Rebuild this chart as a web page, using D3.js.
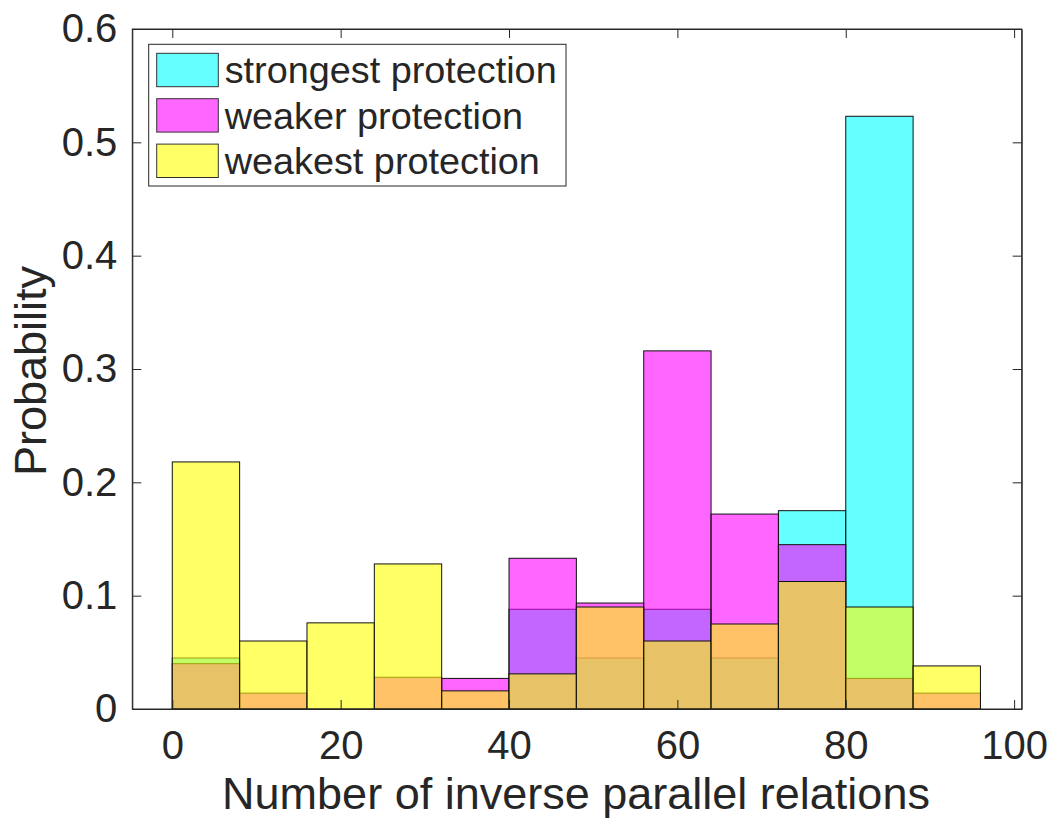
<!DOCTYPE html>
<html>
<head>
<meta charset="utf-8">
<script src="https://cdn.jsdelivr.net/npm/d3@7"></script>
<style>
    body { margin: 0; background: #fff; }
    text { font-family: "Liberation Sans", Arial, Helvetica, sans-serif; fill: #262626; }
</style>
</head>
<body>
<div id="chart"></div>
<script>
// bin edges (width 8) and probabilities
const binEdges = [0, 8, 16, 24, 32, 40, 48, 56, 64, 72, 80, 88, 96];
const strongest = [0.045, 0, 0, 0, 0, 0.088, 0.045, 0.088, 0.045, 0.175, 0.523, 0];
const weaker = [0.040, 0.014, 0, 0.028, 0.027, 0.133, 0.0935, 0.316, 0.172, 0.145, 0.027, 0.014];
const weakest = [0.218, 0.060, 0.076, 0.128, 0.016, 0.031, 0.090, 0.060, 0.075, 0.1125, 0.090, 0.038];
const seriesNames = ["strongest protection", "weaker protection", "weakest protection"];
const seriesColors = ["#00ffff", "#ff00ff", "#ffff00"];
const xTicks = [0, 20, 40, 60, 80, 100];
const yTicks = [0, 0.1, 0.2, 0.3, 0.4, 0.5, 0.6];
const xLabel = "Number of inverse parallel relations";
const yLabel = "Probability";

class HistVis {
    constructor(_parentElement) {
        this.parentElement = _parentElement;
        this.series = [strongest, weaker, weakest];
        this.initVis();
    }

    initVis() {
        let vis = this;

        vis.margin = {top: 29, right: 30.3, bottom: 112, left: 132.3};
        vis.width = 1052 - vis.margin.left - vis.margin.right;
        vis.height = 821 - vis.margin.top - vis.margin.bottom;

        vis.svg = d3.select("#" + vis.parentElement).append("svg")
            .attr("width", 1052)
            .attr("height", 821)
            .append("g")
            .attr("transform", "translate(" + vis.margin.left + "," + vis.margin.top + ")");

        vis.x = d3.scaleLinear().domain([-4.75, 100.9]).range([0, vis.width]);
        vis.y = d3.scaleLinear().domain([0, 0.6]).range([vis.height, 0]);

        vis.updateVis();
    }

    updateVis() {
        let vis = this;

        // histograms, drawn in order so the transparent faces mix like the original
        vis.series.forEach((vals, i) => {
            let bins = vals.map((v, j) => ({x0: binEdges[j], x1: binEdges[j + 1], v: v}));
            vis.svg.append("g")
                .attr("class", "bars")
                .selectAll("rect")
                .data(bins)
                .enter()
                .append("rect")
                .attr("x", d => vis.x(d.x0))
                .attr("y", d => vis.y(d.v))
                .attr("width", d => vis.x(d.x1) - vis.x(d.x0))
                .attr("height", d => vis.y(0) - vis.y(d.v))
                .attr("fill", seriesColors[i])
                .attr("fill-opacity", 0.6)
                .attr("stroke", "#111")
                .attr("stroke-width", 1);
        });

        // axes box with inward ticks on all four sides
        let tickLen = 9;
        let axisColor = "#262626";

        vis.svg.append("g")
            .attr("class", "axis axis--x")
            .attr("transform", "translate(0," + vis.height + ")")
            .call(d3.axisBottom(vis.x).tickValues(xTicks).tickSizeInner(-tickLen).tickSizeOuter(0).tickPadding(22))
            .call(g => g.selectAll("text").attr("font-size", 40).attr("fill", axisColor).attr("font-family", null));

        vis.svg.append("g")
            .attr("class", "axis axis--x-top")
            .call(d3.axisTop(vis.x).tickValues(xTicks).tickSizeInner(-tickLen).tickSizeOuter(0).tickFormat(""));

        vis.svg.append("g")
            .attr("class", "axis axis--y")
            .call(d3.axisLeft(vis.y).tickValues(yTicks).tickSizeInner(-tickLen).tickSizeOuter(0).tickPadding(15)
                .tickFormat(d => d === 0 ? "0" : d3.format(".1f")(d)))
            .call(g => g.selectAll("text").attr("font-size", 40).attr("fill", axisColor).attr("font-family", null));

        vis.svg.append("g")
            .attr("class", "axis axis--y-right")
            .attr("transform", "translate(" + vis.width + ",0)")
            .call(d3.axisRight(vis.y).tickValues(yTicks).tickSizeInner(-tickLen).tickSizeOuter(0).tickFormat(""));

        vis.svg.selectAll(".axis path").attr("stroke", axisColor);
        vis.svg.selectAll(".axis line").attr("stroke", axisColor);

        vis.svg.append("rect")
            .attr("x", 0).attr("y", 0)
            .attr("width", vis.width).attr("height", vis.height)
            .attr("fill", "none")
            .attr("stroke", axisColor)
            .attr("stroke-width", 1);

        // axis labels
        vis.svg.append("text")
            .attr("x", vis.width / 2 - 1)
            .attr("y", vis.height + 100)
            .attr("text-anchor", "middle")
            .attr("font-size", 45)
            .text(xLabel);

        vis.svg.append("text")
            .attr("transform", "translate(" + (46 - vis.margin.left) + "," + (vis.height / 2 + 2) + ") rotate(-90)")
            .attr("text-anchor", "middle")
            .attr("font-size", 45)
            .text(yLabel);

        // legend
        let legend = vis.svg.append("g")
            .attr("class", "legend")
            .attr("transform", "translate(" + (148.7 - vis.margin.left) + "," + (44.3 - vis.margin.top) + ")");

        legend.append("rect")
            .attr("width", 417.3)
            .attr("height", 141.7)
            .attr("fill", "#fff")
            .attr("stroke", axisColor)
            .attr("stroke-width", 1);

        let rows = legend.selectAll(".row")
            .data(seriesNames)
            .enter()
            .append("g")
            .attr("class", "row")
            .attr("transform", (d, i) => "translate(8," + (9 + i * 45.4) + ")");

        rows.append("rect")
            .attr("width", 61.6)
            .attr("height", 33.4)
            .attr("fill", (d, i) => seriesColors[i])
            .attr("fill-opacity", 0.6)
            .attr("stroke", "#333")
            .attr("stroke-width", 1);

        rows.append("text")
            .attr("x", 68)
            .attr("y", 30)
            .attr("font-size", 37.8)
            .attr("fill", "#000")
            .text(d => d);
    }
}

let myHist = new HistVis("chart");
</script>
</body>
</html>
